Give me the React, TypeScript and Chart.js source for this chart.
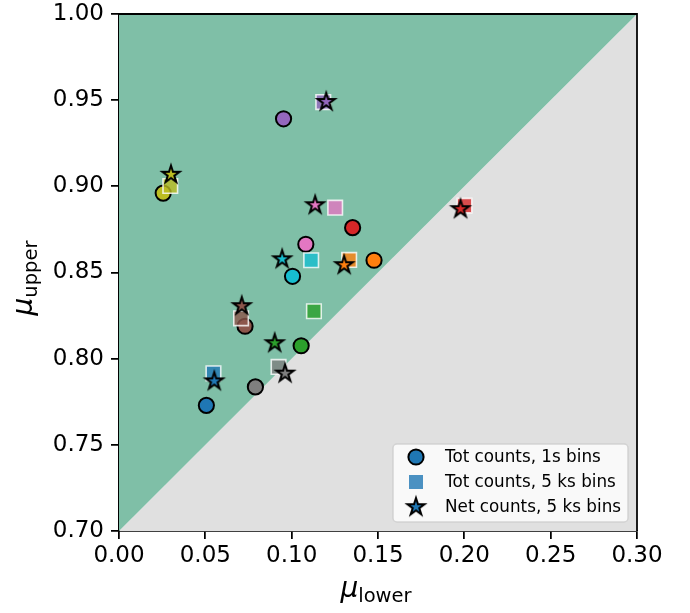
import React, { useEffect, useRef } from 'react';
import { Chart, registerables } from 'chart.js';

Chart.register(...registerables);

// ---- data ----
const sourceColors = ['#1f77b4', '#ff7f0e', '#2ca02c', '#d62728', '#9467bd', '#8c564b', '#e377c2', '#7f7f7f', '#bcbd22', '#17becf'];

// Tot counts, 1s bins (circles)
const circleX = [0.0506, 0.1477, 0.1055, 0.1353, 0.0953, 0.0730, 0.1082, 0.0790, 0.0256, 0.1005];
const circleY = [0.7729, 0.8571, 0.8075, 0.8760, 0.9392, 0.8188, 0.8664, 0.7836, 0.8961, 0.8478];

// Tot counts, 5 ks bins (squares)
const squareX = [0.0547, 0.1333, 0.1129, 0.2001, 0.1183, 0.0707, 0.1252, 0.0924, 0.0297, 0.1113];
const squareY = [0.7915, 0.8573, 0.8275, 0.8888, 0.9489, 0.8234, 0.8876, 0.7952, 0.9002, 0.8571];

// Net counts, 5 ks bins (stars)
const starX = [0.0552, 0.1304, 0.0902, 0.1978, 0.1200, 0.0711, 0.1136, 0.0962, 0.0301, 0.0945];
const starY = [0.7874, 0.8548, 0.8095, 0.8873, 0.9495, 0.8310, 0.8896, 0.7919, 0.9073, 0.8582];

const diagonalX = [0.0, 0.3];
const diagonalY = [0.7, 1.0];

const xTicks = [0.0, 0.05, 0.1, 0.15, 0.2, 0.25, 0.3];
const yTicks = [0.7, 0.75, 0.8, 0.85, 0.9, 0.95, 1.0];

const legendLabels = ['Tot counts, 1s bins', 'Tot counts, 5 ks bins', 'Net counts, 5 ks bins'];
const xTitleMain = 'μ';
const xTitleSub = 'lower';
const yTitleMain = 'μ';
const yTitleSub = 'upper';

// ---- helpers ----
const FONT = '"DejaVu Sans", "Liberation Sans", sans-serif';
const GREEN = '#7fbfa7';
const GREY = '#e0e0e0';

function hexToRgba(hex: string, a: number) {
  const n = parseInt(hex.slice(1), 16);
  return `rgba(${(n >> 16) & 255},${(n >> 8) & 255},${n & 255},${a})`;
}

function starPath(ctx: CanvasRenderingContext2D, cx: number, cy: number, R: number) {
  const r = R * 0.381966;
  ctx.beginPath();
  for (let k = 0; k < 10; k++) {
    const ang = -Math.PI / 2 + (k * Math.PI) / 5;
    const rad = k % 2 === 0 ? R : r;
    const px = cx + rad * Math.cos(ang);
    const py = cy + rad * Math.sin(ang);
    if (k === 0) ctx.moveTo(px, py);
    else ctx.lineTo(px, py);
  }
  ctx.closePath();
}

function makeStar(color: string) {
  const c = document.createElement('canvas');
  c.width = 26;
  c.height = 26;
  const ctx = c.getContext('2d')!;
  starPath(ctx, 13, 13.8, 9);
  ctx.fillStyle = color;
  ctx.fill();
  ctx.lineWidth = 2;
  ctx.lineJoin = 'miter';
  ctx.strokeStyle = '#000';
  ctx.stroke();
  return c;
}

export default function App() {
  const ref = useRef<HTMLCanvasElement>(null);

  useEffect(() => {
    const canvas = ref.current!;
    const stars = sourceColors.map(makeStar);

    const framePlugin = {
      id: 'frameAndText',
      afterDatasetsDraw(chart: any) {
        const { ctx, chartArea: a } = chart;
        ctx.save();
        ctx.strokeStyle = '#000';
        ctx.lineWidth = 1.76;
        ctx.beginPath();
        ctx.moveTo(a.left, a.top);
        ctx.lineTo(a.right, a.top);
        ctx.lineTo(a.right, a.bottom);
        ctx.stroke();
        ctx.restore();
      },
      afterDraw(chart: any) {
        const { ctx, chartArea: a } = chart;
        ctx.save();
        // x title
        ctx.fillStyle = '#000';
        ctx.textBaseline = 'alphabetic';
        ctx.textAlign = 'left';
        const mainFont = `italic 28px ${FONT}`;
        const subFont = `19.5px ${FONT}`;
        ctx.font = mainFont;
        const wm = ctx.measureText(xTitleMain).width;
        ctx.font = subFont;
        const ws = ctx.measureText(xTitleSub).width;
        const cx = (a.left + a.right) / 2 - 2;
        const x0 = cx - (wm + ws) / 2;
        ctx.font = mainFont;
        ctx.fillText(xTitleMain, x0, 597);
        ctx.font = subFont;
        ctx.fillText(xTitleSub, x0 + wm, 602);

        // y title
        ctx.save();
        ctx.translate(32, 278);
        ctx.rotate(-Math.PI / 2);
        ctx.font = mainFont;
        const wm2 = ctx.measureText(yTitleMain).width;
        ctx.font = subFont;
        const ws2 = ctx.measureText(yTitleSub).width;
        const y0 = -(wm2 + ws2) / 2;
        ctx.font = mainFont;
        ctx.fillText(yTitleMain, y0, 0);
        ctx.font = subFont;
        ctx.fillText(yTitleSub, y0 + wm2, 5);
        ctx.restore();

        // legend
        const bx = 393, by = 444, bw = 235, bh = 78, rr = 4;
        ctx.beginPath();
        ctx.moveTo(bx + rr, by);
        ctx.lineTo(bx + bw - rr, by);
        ctx.arcTo(bx + bw, by, bx + bw, by + rr, rr);
        ctx.lineTo(bx + bw, by + bh - rr);
        ctx.arcTo(bx + bw, by + bh, bx + bw - rr, by + bh, rr);
        ctx.lineTo(bx + rr, by + bh);
        ctx.arcTo(bx, by + bh, bx, by + bh - rr, rr);
        ctx.lineTo(bx, by + rr);
        ctx.arcTo(bx, by, bx + rr, by, rr);
        ctx.closePath();
        ctx.fillStyle = 'rgba(255,255,255,0.8)';
        ctx.fill();
        ctx.strokeStyle = 'rgba(204,204,204,0.8)';
        ctx.lineWidth = 1.5;
        ctx.stroke();

        const mx = 416;
        const rows = [457, 482, 507];
        // circle
        ctx.beginPath();
        ctx.arc(mx, rows[0], 7.6, 0, Math.PI * 2);
        ctx.fillStyle = sourceColors[0];
        ctx.fill();
        ctx.lineWidth = 2;
        ctx.strokeStyle = '#000';
        ctx.stroke();
        // square
        ctx.fillStyle = hexToRgba(sourceColors[0], 0.8);
        ctx.fillRect(mx - 7, rows[1] - 7, 14, 14);
        // star
        ctx.drawImage(stars[0], mx - 13, rows[2] - 13.8);

        ctx.fillStyle = '#000';
        ctx.font = `16.8px ${FONT}`;
        ctx.textBaseline = 'middle';
        legendLabels.forEach((t, i) => ctx.fillText(t, 445, rows[i] + 1));
        ctx.restore();
      },
    };

    const diag = diagonalX.map((x, i) => ({ x, y: diagonalY[i] }));

    const chart = new Chart(canvas, {
      type: 'scatter',
      data: {
        datasets: [
          {
            label: legendLabels[0],
            data: circleX.map((x, i) => ({ x, y: circleY[i] })),
            pointStyle: 'circle',
            pointRadius: 7.6,
            pointHoverRadius: 7.6,
            pointBorderWidth: 2,
            pointBackgroundColor: sourceColors,
            pointBorderColor: '#000',
            order: 3,
          } as any,
          {
            label: legendLabels[1],
            data: squareX.map((x, i) => ({ x, y: squareY[i] })),
            pointStyle: 'rect',
            pointRadius: 10.3,
            pointHoverRadius: 10.3,
            pointBorderWidth: 1.6,
            pointBackgroundColor: sourceColors.map((c) => hexToRgba(c, 0.8)),
            pointBorderColor: 'rgba(255,255,255,0.8)',
            order: 2,
          } as any,
          {
            label: legendLabels[2],
            data: starX.map((x, i) => ({ x, y: starY[i] })),
            pointStyle: stars as any,
            pointRadius: 9,
            pointHoverRadius: 9,
            order: 1,
          } as any,
          {
            type: 'line',
            label: 'upper region',
            data: diag,
            borderWidth: 0,
            pointRadius: 0,
            backgroundColor: GREEN,
            fill: 'end',
            order: 10,
          } as any,
          {
            type: 'line',
            label: 'lower region',
            data: diag,
            borderWidth: 0,
            pointRadius: 0,
            backgroundColor: GREY,
            fill: 'start',
            order: 11,
          } as any,
        ],
      },
      options: {
        animation: false,
        responsive: false,
        maintainAspectRatio: false,
        devicePixelRatio: 1,
        layout: { padding: { left: 0, top: 14, right: 53, bottom: 0 } },
        plugins: { legend: { display: false }, tooltip: { enabled: false } },
        events: [],
        scales: {
          x: {
            type: 'linear',
            min: 0,
            max: 0.3,
            afterFit: (s: any) => {
              s.height = 82;
              s.paddingLeft = 0;
              s.paddingRight = 0;
            },
            afterBuildTicks: (s: any) => {
              s.ticks = xTicks.map((v) => ({ value: v }));
            },
            ticks: {
              autoSkip: false,
              maxRotation: 0,
              padding: 3,
              color: '#000',
              font: { family: FONT, size: 23 },
              callback: (v: any) => Number(v).toFixed(2),
            },
            grid: { drawOnChartArea: false, drawTicks: true, tickLength: 8, color: '#000', lineWidth: 1.76 },
            border: { display: true, color: '#000', width: 1.76 },
          },
          y: {
            type: 'linear',
            min: 0.7,
            max: 1.0,
            afterFit: (s: any) => {
              s.width = 119;
              s.paddingTop = 0;
              s.paddingBottom = 0;
            },
            afterBuildTicks: (s: any) => {
              s.ticks = yTicks.map((v) => ({ value: v }));
            },
            ticks: {
              autoSkip: false,
              padding: 7,
              color: '#000',
              font: { family: FONT, size: 23 },
              callback: (v: any) => Number(v).toFixed(2),
            },
            grid: { drawOnChartArea: false, drawTicks: true, tickLength: 8, color: '#000', lineWidth: 1.76 },
            border: { display: true, color: '#000', width: 1.76 },
          },
        },
      },
      plugins: [framePlugin],
    });

    return () => chart.destroy();
  }, []);

  return (
    <div style={{ position: 'absolute', left: 0, top: 0, width: 690, height: 613, background: '#fff' }}>
      <canvas ref={ref} width={690} height={613} style={{ display: 'block', width: 690, height: 613 }} />
    </div>
  );
}
